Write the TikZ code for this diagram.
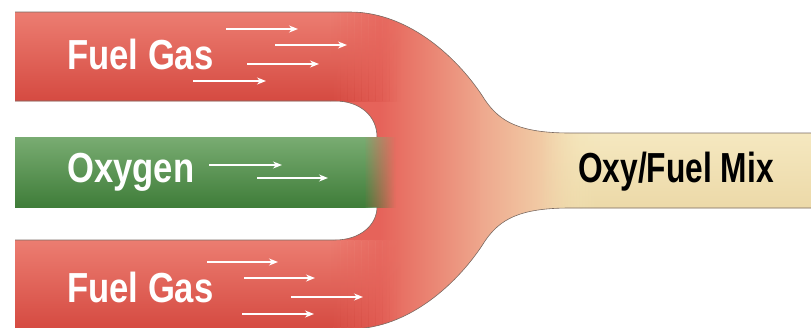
\documentclass[tikz,border=0pt]{standalone}
\usepackage{fontspec}
\newfontfamily\condfont{Liberation Sans}[FakeStretch=0.825]
\newfontfamily\mixfont{Liberation Sans}[FakeStretch=0.755]
\usetikzlibrary{arrows.meta}
\definecolor{fuelred}{HTML}{E6635A}
\definecolor{redlight}{HTML}{EC7D71}
\definecolor{reddark}{HTML}{D54A41}
\definecolor{junction}{HTML}{EEA78D}
\definecolor{mixbeige}{HTML}{F3E2B4}
\definecolor{mixlight}{HTML}{F5E8C0}
\definecolor{mixdark}{HTML}{ECD9A8}
\definecolor{greenlight}{HTML}{79AC72}
\definecolor{greendark}{HTML}{3F7D39}
\definecolor{edgegray}{HTML}{7A6A62}
\newcommand\forkshape{(15,12) -- (350,12) .. controls (410,12) and (460,60) .. (485,100) .. controls (500,122) and (520,133) .. (570,133) -- (811,133) -- (811,208) -- (570,208) .. controls (520,208) and (500,219) .. (485,241) .. controls (460,281) and (410,329) .. (350,329) -- (15,329) -- (15,240) -- (335,240) .. controls (360,240) and (377,225) .. (377,207) -- (355,207) -- (355,137) -- (377,137) .. controls (377,116) and (360,101) .. (335,101) -- (15,101) -- cycle}
\begin{document}
\begin{tikzpicture}[x=1pt,y=-1pt,
  flow/.style={draw=white, line width=1.4pt, -{Stealth[length=9pt,width=7pt]}},
  tubetext/.style={font=\condfont\bfseries\fontsize{42}{42}\selectfont, text=white, anchor=base west, inner sep=0pt},
  mixtext/.style={font=\mixfont\bfseries\fontsize{42}{42}\selectfont, text=black, anchor=base west, inner sep=0pt},
  edge/.style={draw=edgegray, line width=0.6pt}]
\useasboundingbox (0,0) rectangle (811,327);
\begin{scope}
  \clip \forkshape;
  \fill[fuelred] (0,0) rectangle (382,330);
  \shade[left color=fuelred, right color=junction] (380,0) rectangle (482,330);
  \shade[left color=junction, right color=mixbeige] (480,0) rectangle (582,330);
  \fill[mixbeige] (580,0) rectangle (811,330);
  \shade[top color=redlight, bottom color=reddark] (0,12) rectangle (330.5,101);
  \shade[top color=redlight, bottom color=reddark] (0,240) rectangle (330.5,329);
  \foreach \i in {0,...,19}{
    \pgfmathsetmacro\op{1-(\i+0.5)/20}
    \shade[top color=redlight, bottom color=reddark, opacity=\op] (330+\i*3.5,12) rectangle (330+\i*3.5+3.5,101);
    \shade[top color=redlight, bottom color=reddark, opacity=\op] (330+\i*3.5,240) rectangle (330+\i*3.5+3.5,329);
  }
  \shade[top color=mixlight, bottom color=mixdark] (600,133) rectangle (811,208);
  \foreach \i in {0,...,19}{
    \pgfmathsetmacro\op{(\i+0.5)/20}
    \shade[top color=mixlight, bottom color=mixdark, opacity=\op] (540+\i*3,133) rectangle (540+\i*3+3,208);
  }
\end{scope}
% oxygen tube
\shade[top color=greenlight, bottom color=greendark] (15,137) rectangle (364.5,207);
\foreach \i in {0,...,15}{
  \pgfmathsetmacro\op{1-(\i+0.5)/16}
  \shade[top color=greenlight, bottom color=greendark, opacity=\op] (364+\i*2,137) rectangle (364+\i*2+2,207);
}
% outlines
\draw[edge] (15,12) -- (350,12) .. controls (410,12) and (460,60) .. (485,100) .. controls (500,122) and (520,133) .. (570,133) -- (811,133);
\draw[edge] (811,208) -- (570,208) .. controls (520,208) and (500,219) .. (485,241) .. controls (460,281) and (410,329) .. (350,329) -- (15,329);
\draw[edge] (15,101) -- (335,101) .. controls (360,101) and (377,116) .. (377,137);
\draw[edge] (377,207) .. controls (377,225) and (360,240) .. (335,240) -- (15,240);
% labels
\node[tubetext] (fueltop) at (67,69) {Fuel Gas};
\node[tubetext] (oxygen) at (67,182) {Oxygen};
\node[tubetext] (fuelbot) at (67,302) {Fuel Gas};
\node[mixtext] (mix) at (578,182) {Oxy/Fuel Mix};
% flow arrows
\draw[flow] (226,29) -- (298,29);
\draw[flow] (275,45) -- (347,45);
\draw[flow] (247,64) -- (319,64);
\draw[flow] (193,81) -- (266,81);
\draw[flow] (209,165) -- (282,165);
\draw[flow] (257,178) -- (328,178);
\draw[flow] (207,262) -- (278,262);
\draw[flow] (244,278) -- (315,278);
\draw[flow] (291,297) -- (363,297);
\draw[flow] (242,314) -- (314,314);
\end{tikzpicture}
\end{document}
